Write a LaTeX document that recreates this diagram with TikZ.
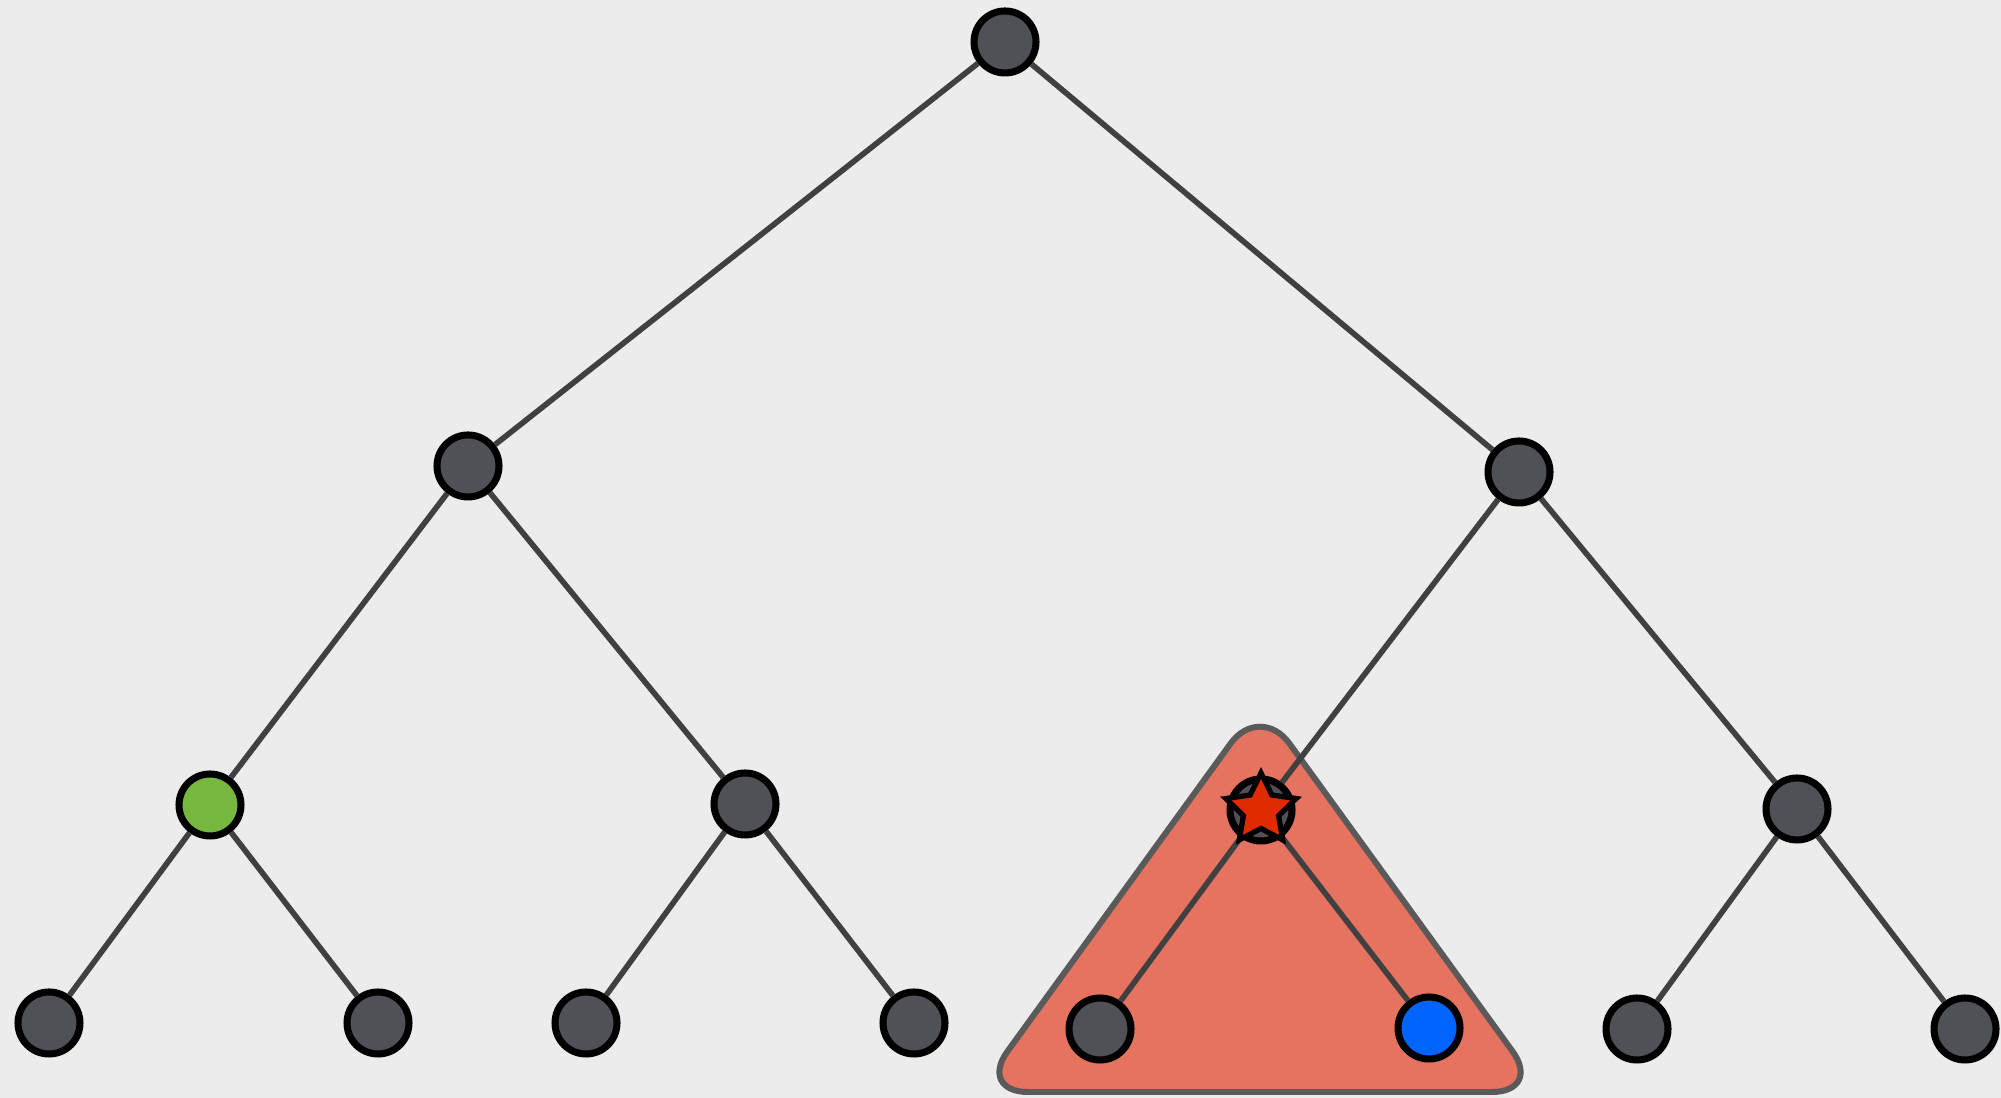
\documentclass[tikz,border=0pt]{standalone}
\usetikzlibrary{shapes.geometric}

\definecolor{paper}{RGB}{236,236,236}
\definecolor{nodegray}{RGB}{80,81,87}
\definecolor{edgegray}{RGB}{64,64,64}
\definecolor{leafgreen}{RGB}{118,184,62}
\definecolor{leafblue}{RGB}{0,100,255}
\definecolor{subtree}{RGB}{230,114,96}
\definecolor{subtreeline}{RGB}{90,90,90}
\definecolor{starred}{RGB}{224,42,0}

\begin{document}
\begin{tikzpicture}[
    vertex/.style={circle, draw=black, line width=2pt, minimum size=0.62cm, inner sep=0pt, fill=nodegray},
    edge/.style={draw=edgegray, line width=1.6pt},
    marker/.style={star, star points=5, star point ratio=2.0, minimum size=0.74cm, inner sep=0pt, fill=starred, draw=black, line width=1.5pt}
]
    \useasboundingbox (0,0) rectangle (20.01,10.98);
    \fill[paper] (0,0) rectangle (20.01,10.98);

    % Highlighted subtree
    \draw[fill=subtree, draw=subtreeline, line width=1.7pt, rounded corners=0.5cm]
        (12.60,3.95) -- (15.42,0.06) -- (9.78,0.06) -- cycle;

    % Root and level 1
    \node[vertex] (root) at (10.05,10.56) {};
    \node[vertex] (l) at (4.68,6.32) {};
    \node[vertex] (r) at (15.19,6.26) {};

    % Level 2
    \node[vertex, fill=leafgreen] (ll) at (2.10,2.93) {};
    \node[vertex] (lr) at (7.45,2.94) {};
    \node[vertex] (rl) at (12.61,2.88) {};
    \node[vertex] (rr) at (17.97,2.89) {};

    % Leaves
    \node[vertex] (lll) at (0.49,0.75) {};
    \node[vertex] (llr) at (3.78,0.75) {};
    \node[vertex] (lrl) at (5.86,0.75) {};
    \node[vertex] (lrr) at (9.14,0.75) {};
    \node[vertex] (rll) at (11.00,0.69) {};
    \node[vertex, fill=leafblue] (rlr) at (14.29,0.70) {};
    \node[vertex] (rrl) at (16.37,0.69) {};
    \node[vertex] (rrr) at (19.65,0.69) {};

    % Edges
    \foreach \p/\c in {root/l, root/r, l/ll, l/lr, r/rl, r/rr,
                       ll/lll, ll/llr, lr/lrl, lr/lrr, rl/rll, rl/rlr, rr/rrl, rr/rrr}
        \draw[edge] (\p) -- (\c);

    % Star on the subtree root
    \node[marker] (mark) at (rl) {};

\end{tikzpicture}
\end{document}
